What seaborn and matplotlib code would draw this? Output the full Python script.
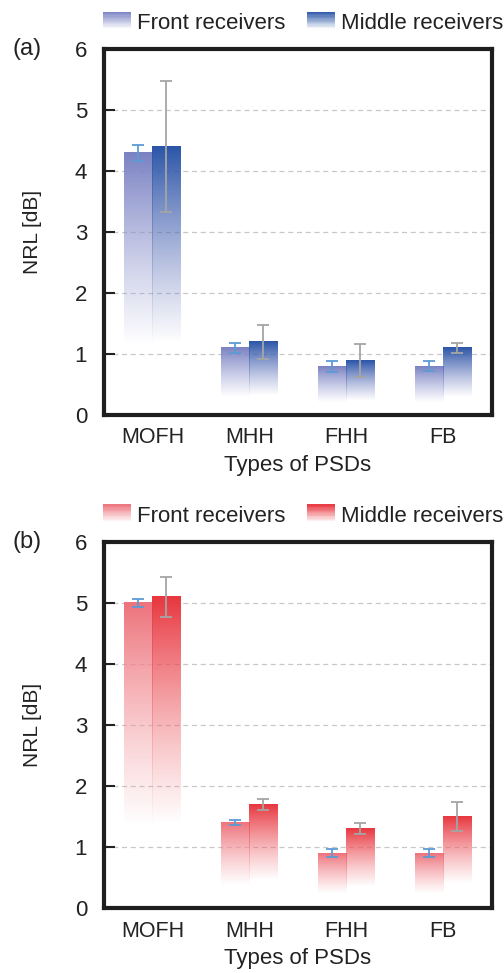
import numpy as np
import pandas as pd
import matplotlib
matplotlib.use('Agg')
import matplotlib.pyplot as plt
import seaborn as sns
from matplotlib.colors import to_rgb
from matplotlib.patches import Rectangle
from matplotlib.legend_handler import HandlerBase

psds = ['MOFH', 'MHH', 'FHH', 'FB']
receivers = ['Front receivers', 'Middle receivers']

# panel (a)
a_front = [4.3, 1.1, 0.8, 0.8]
a_front_err = [0.13, 0.08, 0.09, 0.08]
a_middle = [4.4, 1.2, 0.9, 1.1]
a_middle_err = [1.07, 0.28, 0.27, 0.08]

# panel (b)
b_front = [5.0, 1.4, 0.9, 0.9]
b_front_err = [0.07, 0.04, 0.06, 0.06]
b_middle = [5.1, 1.7, 1.3, 1.5]
b_middle_err = [0.33, 0.09, 0.09, 0.24]

# top colour, colour where the bar fades out
blues = [('#7a82c3', '#a4a9d8'), ('#2a55a8', '#8188c6')]
reds = [('#ee737c', '#f6a8ad'), ('#e8363e', '#f38a90')]
err_colors = ['#5b9bd5', '#a5a5a5']

sns.set_style('white')
plt.rcParams['font.family'] = ['Liberation Sans', 'DejaVu Sans']
plt.rcParams['text.color'] = '#222222'
plt.rcParams['axes.labelcolor'] = '#222222'
plt.rcParams['xtick.color'] = '#222222'
plt.rcParams['ytick.color'] = '#222222'

FADE = 0.27


def gradient_img(top, low, n=200):
    c1 = np.array(to_rgb(top))
    c0 = np.array(to_rgb(low))
    t = np.linspace(1, 0, n)
    s = np.clip((t - FADE) / (1 - FADE), 0, 1)
    img = np.zeros((n, 1, 4))
    img[:, 0, :3] = c0[None, :] + (c1 - c0)[None, :] * s[:, None]
    img[:, 0, 3] = s ** 0.9
    return img


class GradHandler(HandlerBase):
    def create_artists(self, legend, orig_handle, xdescent, ydescent,
                       width, height, fontsize, trans):
        color = orig_handle.get_facecolor()[:3]
        n = 16
        arts = []
        for i in range(n):
            t = (i + 0.5) / n
            a = float(np.clip((t - 0.15) / 0.85, 0, 1))
            r = Rectangle((-xdescent, -ydescent + height * i / n), width,
                          height / n, facecolor=color, alpha=a,
                          edgecolor='none', antialiased=False,
                          transform=trans)
            arts.append(r)
        return arts


def draw_panel(ax, front, front_err, middle, middle_err, colors, tag):
    df = pd.DataFrame({
        'psd': psds * 2,
        'nrl': front + middle,
        'receiver': [receivers[0]] * 4 + [receivers[1]] * 4,
    })
    sns.barplot(data=df, x='psd', y='nrl', hue='receiver',
                palette=[c[0] for c in colors],
                width=0.58, gap=0, ax=ax, legend=False, errorbar=None)

    errs = [front_err, middle_err]
    vals = [front, middle]
    bars = list(ax.containers)
    for k, cont in enumerate(bars):
        centers = []
        for p in cont:
            x0, w, h = p.get_x(), p.get_width(), p.get_height()
            centers.append(x0 + w / 2)
            p.set_facecolor('none')
            p.set_edgecolor('none')
            ax.imshow(gradient_img(*colors[k]), extent=[x0, x0 + w, 0, h],
                      aspect='auto', interpolation='bilinear', zorder=2)
        ax.errorbar(centers, vals[k], yerr=errs[k], fmt='none',
                    ecolor=err_colors[k], elinewidth=1.3, capsize=4,
                    capthick=1.3, zorder=5)

    ax.set_xlim(-0.5, 3.5)
    ax.set_ylim(0, 6)
    ax.set_yticks(range(0, 7))
    ax.yaxis.grid(True, linestyle=(0, (4, 3)), color='#c8c8c8', linewidth=0.9)
    ax.set_axisbelow(True)
    for s in ax.spines.values():
        s.set_linewidth(3)
        s.set_color('#1e1e1e')
    ax.tick_params(axis='y', direction='in', length=8, width=1.5,
                   labelsize=16, pad=12, left=True)
    ax.tick_params(axis='x', length=0, labelsize=15.5, pad=9)
    ax.set_ylabel('NRL [dB]', fontsize=15)
    ax.set_xlabel('Types of PSDs', fontsize=16)
    ax.yaxis.set_label_coords(-0.16, 0.5)
    ax.xaxis.set_label_coords(0.5, -0.11)

    handles = [Rectangle((0, 0), 1, 1, facecolor=c[0]) for c in colors]
    ax.legend(handles, receivers, handler_map={Rectangle: GradHandler()},
              loc='lower left', bbox_to_anchor=(-0.003, 1.04), ncol=2,
              frameon=False, fontsize=16, handlelength=1.26,
              handleheight=1.05, handletextpad=0.3, columnspacing=0.95,
              borderaxespad=0, borderpad=0)
    ax.text(-0.235, 1.0, tag, transform=ax.transAxes, fontsize=17,
            ha='left', va='center')


fig = plt.figure(figsize=(5.04, 9.73), dpi=100)
ax1 = fig.add_axes([0.206, 0.5735, 0.77, 0.3761])
ax2 = fig.add_axes([0.206, 0.0668, 0.77, 0.3762])

draw_panel(ax1, a_front, a_front_err, a_middle, a_middle_err, blues, '(a)')
draw_panel(ax2, b_front, b_front_err, b_middle, b_middle_err, reds, '(b)')

fig.savefig('out.png', dpi=100)
